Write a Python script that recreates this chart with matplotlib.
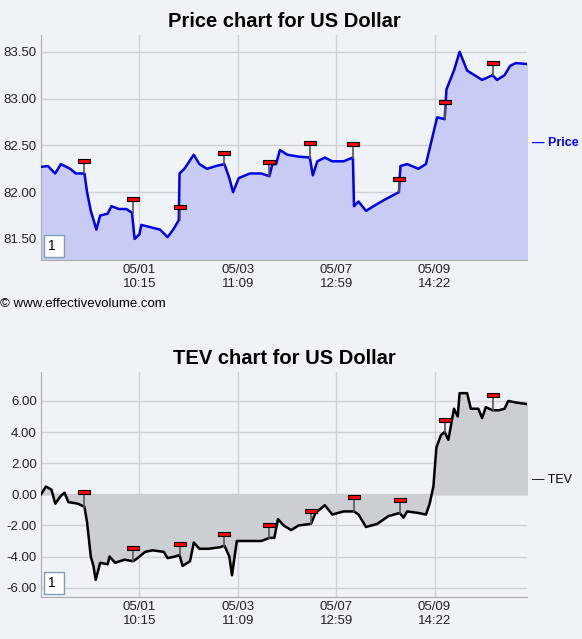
import matplotlib.pyplot as plt
import numpy as np

plt.rcParams['font.family'] = ['Liberation Sans', 'DejaVu Sans']

# time axis in arbitrary units 0..1298
price_t = [0, 18, 38, 53, 78, 93, 116, 123, 133, 148, 158, 178, 188, 208, 228, 243, 250, 263, 268, 298, 318,
           338, 353, 368, 370, 383, 408, 423, 443, 468, 490, 503, 513, 528, 558, 588, 610, 618, 628, 638, 658,
           688, 718, 726, 738, 758, 778, 808, 833, 836, 848, 868, 888, 918, 956, 960, 978, 1008, 1028, 1043,
           1058, 1078, 1083, 1103, 1118, 1138, 1158, 1178, 1206, 1218, 1238, 1253, 1268, 1298]
price_v = [82.27, 82.28, 82.2, 82.3, 82.25, 82.2, 82.2, 82.0, 81.8, 81.6, 81.75, 81.77, 81.85, 81.82, 81.82,
           81.78, 81.5, 81.55, 81.65, 81.62, 81.6, 81.52, 81.6, 81.7, 82.2, 82.25, 82.4, 82.3, 82.25, 82.28,
           82.3, 82.15, 82.0, 82.15, 82.2, 82.2, 82.17, 82.3, 82.3, 82.45, 82.4, 82.38, 82.37, 82.18, 82.33,
           82.37, 82.33, 82.33, 82.37, 81.85, 81.9, 81.8, 81.85, 81.92, 82.0, 82.28, 82.3, 82.25, 82.3, 82.55,
           82.8, 82.78, 83.1, 83.3, 83.5, 83.3, 83.25, 83.2, 83.25, 83.2, 83.25, 83.35, 83.38, 83.37]
price_flag_t = [116, 246, 370, 490, 610, 718, 833, 956, 1078, 1206]
price_flag_base = [82.2, 81.78, 81.7, 82.3, 82.17, 82.37, 82.37, 82.0, 82.78, 83.25]
price_flag_v = [82.33, 81.93, 81.84, 82.42, 82.32, 82.53, 82.52, 82.14, 82.96, 83.38]

tev_t = [0, 13, 28, 38, 53, 63, 73, 98, 116, 123, 133, 140, 146, 158, 178, 183, 198, 223, 246, 258, 278, 298,
         328, 338, 358, 370, 378, 398, 408, 423, 448, 478, 490, 503, 510, 523, 548, 588, 610, 623, 633, 648,
         668, 688, 721, 733, 758, 778, 808, 836, 848, 868, 898, 928, 958, 968, 978, 1008, 1028, 1038, 1048,
         1056, 1068, 1078, 1088, 1103, 1113, 1118, 1138, 1148, 1168, 1178, 1188, 1206, 1223, 1238, 1248,
         1268, 1298]
tev_v = [0.0, 0.5, 0.3, -0.6, -0.1, 0.1, -0.5, -0.6, -0.8, -1.8, -4.0, -4.6, -5.5, -4.4, -4.5, -4.0, -4.4,
         -4.2, -4.3, -4.1, -3.7, -3.6, -3.7, -4.1, -4.0, -3.9, -4.6, -4.3, -3.1, -3.5, -3.5, -3.4, -3.3, -4.0,
         -5.2, -3.0, -3.0, -3.0, -2.8, -2.8, -1.6, -2.0, -2.3, -2.0, -1.9, -1.2, -0.7, -1.3, -1.1, -1.1, -1.3,
         -2.1, -1.9, -1.4, -1.2, -1.5, -1.1, -1.2, -1.3, -0.6, 0.5, 3.0, 3.8, 4.0, 3.5, 5.5, 5.0, 6.5, 6.5,
         5.5, 5.5, 4.9, 5.6, 5.4, 5.4, 5.5, 6.0, 5.9, 5.8]
tev_flag_t = [116, 246, 370, 490, 610, 721, 836, 958, 1078, 1206]
tev_flag_base = [-0.8, -4.3, -3.9, -3.3, -2.8, -1.9, -1.1, -1.2, 4.0, 5.4]
tev_flag_v = [0.15, -3.45, -3.2, -2.55, -1.95, -1.1, -0.15, -0.35, 4.8, 6.35]

tick_pos = [263, 526, 789, 1051]
tick_labels = ['05/01\n10:15', '05/03\n11:09', '05/07\n12:59', '05/09\n14:22']

bg = '#eff3f7'
fig = plt.figure(figsize=(5.82, 6.39), dpi=100, facecolor=bg)
flag = [(-3, -1), (3, -1), (3, 1), (-3, 1), (-3, -1)]


def panel(rect, t, v, ft, fb, fv, color, fill, base, ylim, yticks, title, label):
    ax = fig.add_axes(rect, facecolor=bg)
    ax.fill_between(t, v, base, color=fill, zorder=1)
    ax.plot(t, v, color=color, lw=1.8, zorder=3)
    for x, b, y in zip(ft, fb, fv):
        ax.plot([x, x], [b, y], color='#555555', lw=1.2, zorder=4)
    ax.plot(ft, fv, ls='none', marker=flag, markersize=9, markerfacecolor='red',
            markeredgecolor='black', markeredgewidth=0.8, zorder=5)
    ax.set_xlim(0, 1298)
    ax.set_ylim(*ylim)
    ax.set_yticks(yticks)
    ax.set_yticklabels(['%.2f' % y for y in yticks])
    ax.set_xticks(tick_pos)
    ax.set_xticklabels(tick_labels)
    ax.grid(True, color='#cfd3d8', lw=1)
    ax.set_axisbelow(True)
    ax.tick_params(length=0, labelsize=9.5, colors='#222222', pad=3)
    for s in ['top', 'right']:
        ax.spines[s].set_visible(False)
    ax.spines['left'].set_color('#aaaaaa')
    ax.spines['bottom'].set_color('#aaaaaa')
    ax.set_title(title, fontsize=14.5, fontweight='bold', pad=6)
    ax.text(1.01, 0.52, '\u2014 ' + label, transform=ax.transAxes, color=color,
            fontsize=9, fontweight='bold' if color != 'black' else 'normal', va='center')
    ax.text(0.015, 0.03, '1 ', transform=ax.transAxes, fontsize=10,
            bbox=dict(facecolor='white', edgecolor='#7f9db9', boxstyle='square,pad=0.3', lw=1),
            ha='left', va='bottom')
    return ax


panel([41 / 582, 1 - 260 / 639, 486 / 582, 225 / 639], price_t, price_v, price_flag_t,
      price_flag_base, price_flag_v, '#0000ee', '#c8ccf4', 81.275, (81.275, 83.68),
      [81.5, 82.0, 82.5, 83.0, 83.5], 'Price chart for US Dollar', 'Price')
panel([41 / 582, 1 - 597 / 639, 486 / 582, 225 / 639], tev_t, tev_v, tev_flag_t,
      tev_flag_base, tev_flag_v, 'black', '#cbced2', 0, (-6.6, 7.86),
      [-6, -4, -2, 0, 2, 4, 6], 'TEV chart for US Dollar', 'TEV')

fig.text(0, 1 - 304 / 639, '\u00a9 www.effectivevolume.com', fontsize=9.5, va='center')

fig.savefig('out.png', dpi=100, facecolor=bg)
